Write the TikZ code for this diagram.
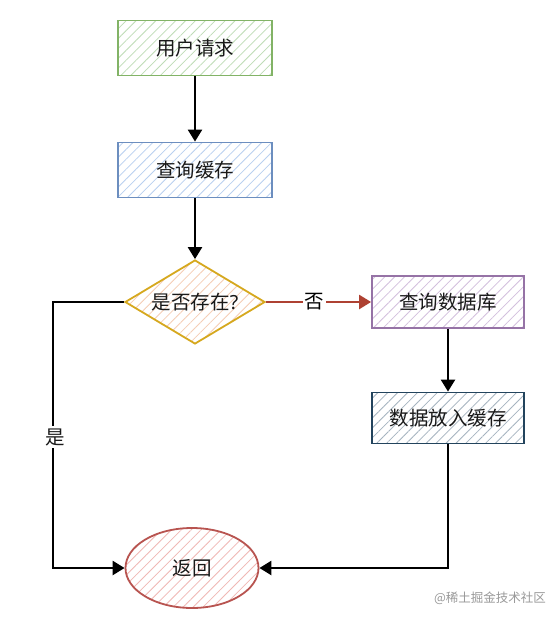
\documentclass[tikz,border=0pt]{standalone}
\usepackage{fontspec}
\setmainfont{Noto Sans CJK SC}
\newfontfamily\latinfont{Noto Sans}
\usetikzlibrary{arrows.meta,patterns.meta,shapes.geometric}
\definecolor{gS}{HTML}{82B366}\definecolor{gF}{HTML}{BEDCB6}
\definecolor{bS}{HTML}{6C8EBF}\definecolor{bF}{HTML}{B9D0F0}
\definecolor{yS}{HTML}{D6A81E}\definecolor{yF}{HTML}{F5CDB5}
\definecolor{pS}{HTML}{9673A6}\definecolor{pF}{HTML}{D3C0DD}
\definecolor{dS}{HTML}{23445D}\definecolor{dF}{HTML}{A5B3BF}
\definecolor{rS}{HTML}{B85450}\definecolor{rF}{HTML}{F0B8B5}
\definecolor{arrRed}{HTML}{AE4132}
\tikzset{
  x=1pt,y=-1pt,
  txt/.style={font=\fontsize{19.5}{22}\selectfont,text=black!90},
  hatch/.style={pattern={Lines[angle=45,distance=7pt,line width=0.8pt]},pattern color=#1},
  box/.style={draw=#1S,line width=1.8pt,minimum width=154pt,minimum height=55pt,
    hatch=#1F,txt},
  flow/.style={line width=2.4pt,-{Triangle[length=12pt,width=14pt]}},
  lbl/.style={fill=white,txt,inner sep=2pt}
}
\begin{document}
\begin{tikzpicture}
\fill[white] (0,0) rectangle (560,622);
\useasboundingbox (0,0) rectangle (560,622);
\node[box=g] (req) at (195,48) {用户请求};
\node[box=b] (cache) at (195,170) {查询缓存};
\node[diamond,aspect=1.67,inner sep=0pt,minimum width=140pt,minimum height=84pt,
  draw=yS,line width=1.8pt,hatch=yF,txt] (dec) at (195,302) {是否存在{\latinfont ?}};
\node[box=p,minimum width=152pt,minimum height=52pt] (db) at (448,302) {查询数据库};
\node[box=d,minimum width=152pt,minimum height=51pt] (put) at (448,418) {数据放入缓存};
\node[ellipse,minimum width=133pt,minimum height=80pt,inner sep=0pt,draw=rS,line width=1.8pt,
  hatch=rF,txt] (ret) at (192,568) {返回};
\coordinate (lt) at (53,302);
\coordinate (lb) at (53,568);
\coordinate (rb) at (448,568);
\draw[flow] (req) -- (cache);
\draw[flow] (cache) -- (dec);
\draw[flow,draw=arrRed,fill=arrRed] (dec.east) -- (db.west)
  node[lbl,pos=0.46,text=black] (no) {否};
\draw[flow] (db) -- (put);
\draw[flow] (put.south) -- (rb) -- (ret.east);
\draw[flow] (dec.west) -- (lt) -- (lb) -- (ret.west);
\node[lbl] (yes) at (55,437) {是};
\node[font=\fontsize{12.5}{14}\selectfont,text=black!40] (wm) at (490,598) {@稀土掘金技术社区};
\end{tikzpicture}
\end{document}
